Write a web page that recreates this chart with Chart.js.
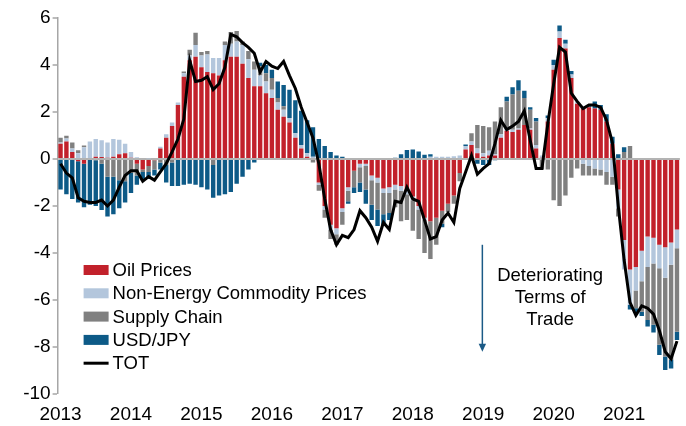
<!DOCTYPE html>
<html>
<head>
<meta charset="utf-8">
<script src="https://cdn.jsdelivr.net/npm/chart.js@4.4.1/dist/chart.umd.min.js"></script>
<style>
html, body { margin: 0; padding: 0; background: #fff; }
#wrap { width: 686px; height: 426px; }
</style>
</head>
<body>
<div id="wrap"><canvas id="myChart" width="686" height="426"></canvas></div>
<script>
// monthly, Jan 2013 - Oct 2021
const years = ['2013', '2014', '2015', '2016', '2017', '2018', '2019', '2020', '2021'];
const lastMonth = 10;
const seriesNames = ['Oil Prices', 'Non-Energy Commodity Prices', 'Supply Chain', 'USD/JPY', 'TOT'];

const oil = [
  0.65, 0.75, 0.3, -0.1, -0.2, 0.0, 0.1, 0.08, 0.05, 0.1, 0.2, 0.25,
  0.05, -0.2, -0.45, -0.3, -0.05, 0.45, 0.9, 1.4, 2.3, 3.5, 4.2, 4.35,
  3.9, 3.7, 3.65, 3.55, 4.2, 4.35, 4.35, 4.05, 3.45, 3.1, 3.1, 2.8,
  2.6, 2.1, 1.8, 1.55, 0.9, 0.45, 0.1, 0.0, -1.0, -2.0, -2.8, -2.95,
  -2.1, -1.2, -0.5, -0.2, -0.2, -0.7, -0.8, -1.25, -1.2, -1.1, -1.15, -1.35,
  -1.6, -2.0, -2.5, -2.65, -2.5, -2.2, -1.9, -1.55, -0.6, 0.4, 0.6, 0.25,
  0.1, 0.15, 0.15, 0.9, 1.2, 1.15, 1.25, 1.45, 1.25, 0.45, 0.05, 1.6,
  3.8, 5.15, 4.7, 3.45, 2.35, 2.15, 2.2, 2.15, 2.1, 1.6, 0.65, -1.3,
  -3.45, -4.7, -4.6, -3.9, -3.3, -3.35, -3.65, -3.75, -3.55, -3.0
];
const nonEnergy = [
  0.05, 0.12, 0.15, 0.25, 0.5, 0.75, 0.75, 0.72, 0.65, 0.75, 0.62, 0.4,
  0.25, 0.07, 0.0, 0.02, 0.0, 0.07, 0.15, 0.15, 0.1, 0.15, 0.2, 0.5,
  0.5, 0.75, 0.65, 0.75, 0.65, 0.55, 0.65, 0.8, 0.8, 0.7, 0.45, 0.5,
  0.35, 0.3, 0.3, 0.2, 0.2, 0.15, 0.15, 0.1, -0.1, -0.15, -0.2, -0.25,
  -0.15, -0.15, 0.0, -0.15, -0.1, -0.2, -0.2, -0.2, -0.25, -0.2, -0.2, -0.15,
  -0.15, -0.15, -0.1, 0.1, 0.1, 0.1, 0.1, 0.12, 0.15, 0.15, 0.15, 0.2,
  0.15, 0.2, 0.05, 0.15, 0.15, 0.1, 0.05, 0.0, 0.05, 0.15, 0.1, 0.15,
  0.2, 0.28, 0.2, 0.15, 0.1, -0.2, -0.3, -0.4, -0.45, -0.55, -0.75, -0.8,
  -1.25, -1.5, -1.0, -1.3, -1.3, -1.1, -1.0, -1.3, -0.95, -0.8
];
const supplyChain = [
  0.2, 0.12, 0.25, 0.12, 0.07, 0.0, -0.05, -0.2, -0.75, -0.75, -0.9, -0.95,
  -0.6, -0.5, -0.1, -0.25, -0.4, -0.15, -0.25, -0.15, 0.0, 0.07, 0.25, 0.52,
  0.15, 0.15, -0.25, 0.0, 0.15, 0.5, 0.45, 0.15, 0.35, 0.35, 0.4, 0.35,
  0.5, 0.2, 0.15, 0.0, 0.0, 0.0, 0.0, -0.15, -0.25, -0.35, -0.4, -0.45,
  -0.55, -0.45, -0.7, -0.65, -1.0, -1.05, -1.15, -0.9, -0.85, -0.75, -1.3, -1.1,
  -1.3, -1.25, -1.4, -1.6, -1.15, -0.55, -0.35, -0.35, -0.35, 0.0, 0.35, 1.0,
  1.15, 1.0, 1.4, 1.15, 1.1, 1.5, 1.6, 1.15, 0.8, 1.0, -0.45, -0.45,
  -1.75, -2.0, -1.55, -0.8, -0.4, -0.5, -0.4, -0.3, -0.25, -0.55, -0.35, -0.35,
  0.3, 0.55, -0.75, -1.3, -2.25, -2.6, -3.25, -3.35, -4.05, -3.55
];
const usdJpy = [
  -1.3, -1.5, -1.7, -1.75, -1.85, -1.95, -1.95, -1.97, -1.7, -1.6, -1.2, -0.9,
  -0.85, -0.4, -0.35, -0.3, -0.25, -0.3, -0.75, -1.0, -1.15, -1.1, -1.05, -1.1,
  -1.2, -1.3, -1.4, -1.55, -1.5, -1.4, -1.05, -0.75, -0.45, -0.15, 0.15, 0.35,
  0.35, 0.7, 0.9, 1.2, 1.4, 1.45, 1.4, 1.25, 0.85, 0.55, 0.3, 0.15,
  0.1, -0.1, -0.25, -0.4, -0.6, -0.65, -0.7, -0.5, -0.3, 0.05, 0.2, 0.38,
  0.4, 0.32, 0.18, 0.1, 0.0, -0.15, 0.0, 0.0, 0.0, 0.07, 0.0, -0.2,
  -0.25, -0.25, -0.05, 0.0, 0.2, 0.3, 0.45, 0.3, 0.1, 0.15, 0.0, 0.1,
  0.22, 0.25, 0.17, 0.15, 0.0, 0.05, 0.05, 0.3, 0.2, 0.3, 0.3, 0.2,
  0.2, -0.2, -0.2, -0.18, -0.28, -0.33, -0.44, -0.58, -0.36, -0.35
];
const tot = [
  -0.2, -0.6, -0.8, -1.65, -1.8, -1.85, -1.85, -1.75, -2.0, -1.75, -1.2, -0.7,
  -0.5, -0.5, -0.95, -0.75, -0.9, -0.55, -0.2, 0.3, 0.85, 1.7, 4.2, 3.3,
  3.35, 3.5, 2.95, 3.2, 3.9, 5.3, 5.2, 4.95, 4.75, 4.5, 3.7, 4.15,
  3.95, 3.85, 4.15, 3.55, 3.0, 2.2, 1.55, 0.9, -0.2, -1.7, -3.0, -3.65,
  -3.25, -3.35, -3.0, -2.2, -2.5, -2.9, -3.5, -2.7, -3.0, -1.8, -1.85, -1.2,
  -1.7, -1.8, -2.6, -3.4, -3.3, -2.6, -2.3, -2.7, -1.25, -0.55, 0.15, -0.65,
  -0.4, -0.2, 0.65, 1.65, 1.25, 1.4, 1.6, 2.05, 0.8, -0.4, -0.4, 1.5,
  3.2, 4.75, 4.55, 2.8, 2.45, 2.15, 2.3, 2.3, 2.2, 1.65, 0.7, -2.0,
  -4.3, -6.1, -6.65, -6.25, -6.35, -6.6, -7.3, -8.2, -8.5, -7.75
];

const labels = [];
years.forEach(y => {
  for (let m = 1; m <= 12; m++) {
    if (y === years[years.length - 1] && m > lastMonth) break;
    labels.push(y + '-' + String(m).padStart(2, '0'));
  }
});

const fontFamily = "'Liberation Sans', Arial, sans-serif";
Chart.defaults.font.family = fontFamily;
Chart.defaults.color = '#000';

// legend + "Deteriorating Terms of Trade" arrow, drawn on the canvas
const overlay = {
  id: 'overlay',
  afterDatasetsDraw(chart) {
    const ctx = chart.ctx;
    const xs = chart.scales.x, ys = chart.scales.y;
    ctx.save();

    const lx = chart.chartArea.left + 26;
    ctx.font = '18.5px ' + fontFamily;
    ctx.textBaseline = 'middle';
    ctx.fillStyle = '#000';
    chart.data.datasets.forEach((ds, k) => {
      const yy = 270 + k * 23.3;
      if (ds.type === 'line') {
        ctx.strokeStyle = ds.borderColor;
        ctx.lineWidth = 3;
        ctx.beginPath();
        ctx.moveTo(lx, yy);
        ctx.lineTo(lx + 25, yy);
        ctx.stroke();
      } else {
        ctx.fillStyle = ds.backgroundColor;
        ctx.fillRect(lx, yy - 5, 25, 10);
      }
      ctx.fillStyle = '#000';
      ctx.fillText(ds.label, lx + 29, yy + 1);
    });

    const ax = xs.getPixelForValue(71.85);
    const y1 = ys.getPixelForValue(-3.65), y2 = ys.getPixelForValue(-8.2);
    ctx.strokeStyle = '#1b5a86';
    ctx.fillStyle = '#1b5a86';
    ctx.lineWidth = 1.5;
    ctx.beginPath();
    ctx.moveTo(ax, y1);
    ctx.lineTo(ax, y2 - 7);
    ctx.stroke();
    ctx.beginPath();
    ctx.moveTo(ax - 3.7, y2 - 8);
    ctx.lineTo(ax + 3.7, y2 - 8);
    ctx.lineTo(ax, y2);
    ctx.closePath();
    ctx.fill();

    const tx = xs.getPixelForValue(83.4);
    ctx.fillStyle = '#000';
    ctx.textAlign = 'center';
    ['Deteriorating', 'Terms of', 'Trade'].forEach((t, k) => {
      ctx.fillText(t, tx, ys.getPixelForValue(-4.94 - k * 0.925) + 1);
    });
    ctx.restore();
  }
};

const barStyle = { type: 'bar', barPercentage: 0.75, categoryPercentage: 1, borderWidth: 0, order: 1 };

const ctx = document.getElementById('myChart').getContext('2d');
const myChart = new Chart(ctx, {
  data: {
    labels: labels,
    datasets: [
      { ...barStyle, label: seriesNames[0], data: oil, backgroundColor: '#c2212b' },
      { ...barStyle, label: seriesNames[1], data: nonEnergy, backgroundColor: '#b3c6dc' },
      { ...barStyle, label: seriesNames[2], data: supplyChain, backgroundColor: '#808080' },
      { ...barStyle, label: seriesNames[3], data: usdJpy, backgroundColor: '#0d5a87' },
      {
        type: 'line', label: seriesNames[4], data: tot, stack: 'tot', order: 0,
        borderColor: '#000000', borderWidth: 3, pointRadius: 0, tension: 0, fill: false
      }
    ]
  },
  options: {
    responsive: false,
    animation: false,
    layout: { padding: { left: 0, right: 6, top: 18, bottom: 0 } },
    plugins: { legend: { display: false }, tooltip: { enabled: false } },
    scales: {
      x: {
        stacked: true,
        grid: { display: false, drawTicks: false },
        border: { display: false },
        ticks: {
          autoSkip: false, maxRotation: 0, minRotation: 0, padding: 9,
          font: { size: 19 },
          callback: (v, i) => labels[i].endsWith('-01') ? labels[i].slice(0, 4) : ''
        },
        afterFit: s => { s.height = 32; }
      },
      y: {
        stacked: true,
        min: -10,
        max: 6,
        ticks: { stepSize: 2, padding: 2, font: { size: 19 } },
        grid: {
          color: c => c.tick.value === 0 ? '#b3b3b3' : 'rgba(0,0,0,0)',
          lineWidth: c => c.tick.value === 0 ? 2 : 0,
          drawTicks: true, tickLength: 5, tickColor: '#a6a6a6', tickWidth: 1.5
        },
        border: { color: '#a6a6a6', width: 1.5 },
        afterFit: s => { s.width = 57.6; }
      }
    }
  },
  plugins: [overlay]
});
</script>
</body>
</html>
